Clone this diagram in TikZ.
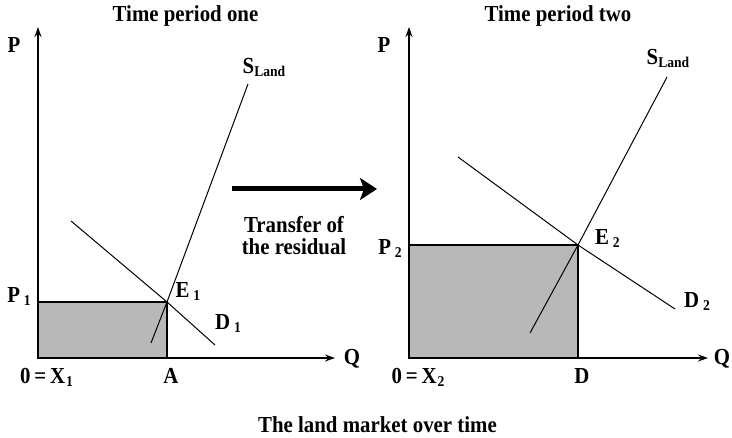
\documentclass[tikz,border=0pt]{standalone}
\usepackage{fontspec}
\setmainfont[FakeStretch=0.91]{Liberation Serif}
\usetikzlibrary{positioning, arrows.meta, calc}
\newcommand{\lowidx}[1]{\raisebox{-3bp}{\fontsize{15}{15}\selectfont #1}}

\begin{document}
\begin{tikzpicture}[x=1bp, y=-1bp]
	\tikzset{
		axis/.style={line width=1.4bp, -{Stealth[length=10bp, width=7bp]}},
		curve/.style={line width=1bp},
		residual/.style={fill=black!28, draw=black, line width=1.4bp},
		lbl/.style={font=\fontsize{23}{25}\selectfont\bfseries, inner sep=0pt, anchor=base}
	}
	\useasboundingbox (0,0) rectangle (732,438);
	% the two markets
	\foreach \i/\ox/\xe in {1/38/335, 2/409/708} {
		\coordinate (O\i) at (\ox,358);
		\coordinate (Ptop\i) at (\ox,27);
		\coordinate (Qend\i) at (\xe,358);
	}
	\coordinate (E1) at (167,302);
	\coordinate (E2) at (578,245);
	\coordinate (sLo1) at (151,343);
	\coordinate (sHi1) at (248,84);
	\coordinate (dHi1) at (71,221);
	\coordinate (dLo1) at (215,345);
	\coordinate (sLo2) at (530,333);
	\coordinate (sHi2) at (667,77);
	\coordinate (dHi2) at (458,157);
	\coordinate (dLo2) at (675,309);
	\draw[residual] (O1) rectangle (E1);
	\draw[residual] (O2) rectangle (E2);
	\draw[axis] (O1) -- (Ptop1);
	\draw[axis] (O1) -- (Qend1);
	\draw[axis] (O2) -- (Ptop2);
	\draw[axis] (O2) -- (Qend2);
	\draw[curve] (sLo1) -- (E1) -- (sHi1);
	\draw[curve] (dHi1) -- (E1) -- (dLo1);
	\draw[curve] (sLo2) -- (E2) -- (sHi2);
	\draw[curve] (dHi2) -- (E2) -- (dLo2);
	% labels
	\node[lbl] (title1) at (185.5,22) {Time period one};
	\node[lbl] (title2) at (558,22) {Time period two};
	\node[lbl] (P1) at (14,53) {P};
	\node[lbl] (P2) at (384,53) {P};
	\node[lbl] (Q1) at (352,365) {Q};
	\node[lbl] (Q2) at (722,365) {Q};
	\node[lbl] (price1) at (19,303) {P\,\lowidx{1}};
	\node[lbl] (price2) at (390,255) {P\,\lowidx{2}};
	\node[lbl] (eq1) at (188,298) {E\,\lowidx{1}};
	\node[lbl] (eq2) at (607.5,245) {E\,\lowidx{2}};
	\node[lbl] (dem1) at (228,330) {D\,\lowidx{1}};
	\node[lbl] (dem2) at (697,308) {D\,\lowidx{2}};
	\node[lbl] (sup1) at (264,74) {S\lowidx{Land}};
	\node[lbl] (sup2) at (668,65) {S\lowidx{Land}};
	\node[lbl] (zero1) at (46.5,383) {0\,=\,X\kern1bp\lowidx{1}};
	\node[lbl] (zero2) at (418,383) {0\,=\,X\kern1bp\lowidx{2}};
	\node[lbl] (A) at (171,383) {A};
	\node[lbl] (D) at (582,383) {D};
	% transfer between the periods
	\coordinate (trA) at (232,189);
	\coordinate (trB) at (377,189);
	\draw[line width=5bp, -{Stealth[length=17bp, width=22bp, inset=4bp]}] (trA) -- (trB);
	\node[lbl] (tr1) at (294,233) {Transfer of};
	\node[lbl] (tr2) at (294,255) {the residual};
	\node[lbl] (caption) at (377.5,432) {The land market over time};
\end{tikzpicture}
\end{document}
